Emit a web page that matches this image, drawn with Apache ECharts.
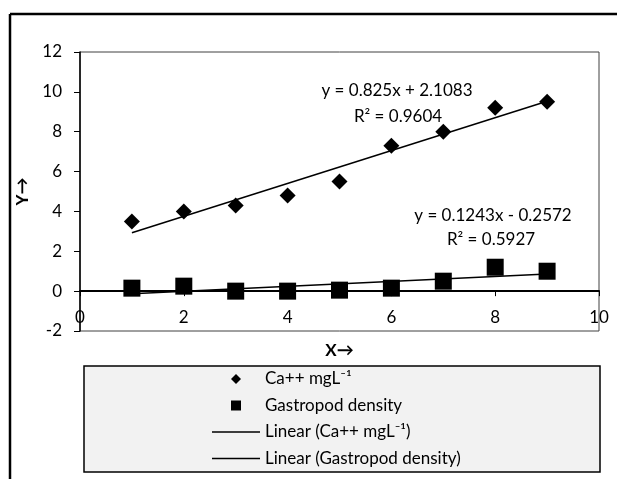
<!DOCTYPE html>
<html>
<head>
<meta charset="utf-8">
<script src="https://cdn.jsdelivr.net/npm/echarts@6/dist/echarts.min.js"></script>
<style>
  html, body { margin: 0; padding: 0; background: #fff; overflow: hidden; }
  #chart { width: 617px; height: 479px; }
</style>
</head>
<body>
<div id="chart"></div>
<script>
// data
const xValues = [1, 2, 3, 4, 5, 6, 7, 8, 9];
const caValues = [3.5, 4.0, 4.3, 4.8, 5.5, 7.3, 8.0, 9.2, 9.5];
const gastroValues = [0.15, 0.25, 0, 0, 0.05, 0.15, 0.5, 1.2, 1.0];
// trend line end points (x = 1 and x = 9)
const trendX = [1, 9];
const caTrend = [2.93, 9.53];
const gastroTrend = [-0.13, 0.86];
const caEquation = ['y = 0.825x + 2.1083', 'R² = 0.9604'];
const gastroEquation = ['y = 0.1243x - 0.2572', 'R² = 0.5927'];

const FONT = 'Lato';
const FS = 17;
const LINE_ICON = 'path://M0,0L48,0L48,1.5L0,1.5Z';

function pairs(xs, ys) {
  return xs.map((x, i) => [x, ys[i]]);
}

let chart = echarts.init(document.getElementById('chart'));
let option = {
  backgroundColor: '#fff',
  animation: false,
  textStyle: { fontFamily: FONT, fontSize: FS, color: '#000' },
  grid: {
    left: 80, right: 18, top: 52, bottom: 148,
    show: true, borderColor: '#404040', borderWidth: 1
  },
  xAxis: {
    type: 'value', min: 0, max: 10, interval: 2,
    name: 'X→', nameLocation: 'middle', nameGap: 11,
    nameTextStyle: { fontFamily: FONT, fontSize: FS, fontWeight: 'bold', color: '#000' },
    axisLine: { show: true, onZero: true, lineStyle: { color: '#000', width: 2 } },
    axisTick: { show: true, length: 5, lineStyle: { color: '#000' } },
    axisLabel: { inside: true, margin: 5, fontFamily: FONT, fontSize: FS, color: '#000' },
    splitLine: { show: false }
  },
  yAxis: {
    type: 'value', min: -2, max: 12, interval: 2,
    name: 'Y→', nameLocation: 'middle', nameGap: 42, nameRotate: 90,
    nameTextStyle: { fontFamily: FONT, fontSize: FS, fontWeight: 'bold', color: '#000' },
    axisLine: { show: true, onZero: false, lineStyle: { color: '#000', width: 1.5 } },
    axisTick: { show: true, length: 6, lineStyle: { color: '#000' } },
    axisLabel: { margin: 18, fontFamily: FONT, fontSize: FS, color: '#000' },
    splitLine: { show: false }
  },
  legend: {
    orient: 'vertical', left: 212, top: 369, padding: 0,
    itemWidth: 48, itemHeight: 10, itemGap: 6.5, symbolKeepAspect: true,
    textStyle: { fontFamily: FONT, fontSize: FS, color: '#000', lineHeight: 20 },
    data: [
      { name: 'Ca++ mgL⁻¹', icon: 'path://M5,0.5L9.5,5L5,9.5L0.5,5Z' },
      { name: 'Gastropod density', icon: 'path://M0,0L10,0L10,10L0,10Z' },
      { name: 'Linear (Ca++ mgL⁻¹)', icon: LINE_ICON },
      { name: 'Linear (Gastropod density)', icon: LINE_ICON }
    ]
  },
  graphic: [
    { type: 'line', z: -10, shape: { x1: 10, y1: 14, x2: 617, y2: 14 },
      style: { stroke: '#000', lineWidth: 2.5 } },
    { type: 'line', z: -10, shape: { x1: 10, y1: 14, x2: 10, y2: 479 },
      style: { stroke: '#000', lineWidth: 2.5 } },
    { type: 'rect', z: -5, shape: { x: 84, y: 366, width: 516, height: 106 },
      style: { fill: '#f2f2f2', stroke: '#000', lineWidth: 1.5 } },
    { type: 'text', x: 397, y: 91, style: { text: caEquation[0], font: FS + 'px ' + FONT, fill: '#000', align: 'center', verticalAlign: 'middle' } },
    { type: 'text', x: 398, y: 117, style: { text: caEquation[1], font: FS + 'px ' + FONT, fill: '#000', align: 'center', verticalAlign: 'middle' } },
    { type: 'text', x: 493, y: 216, style: { text: gastroEquation[0], font: FS + 'px ' + FONT, fill: '#000', align: 'center', verticalAlign: 'middle' } },
    { type: 'text', x: 491, y: 240, style: { text: gastroEquation[1], font: FS + 'px ' + FONT, fill: '#000', align: 'center', verticalAlign: 'middle' } }
  ],
  series: [
    {
      name: 'Ca++ mgL⁻¹', type: 'scatter', symbol: 'diamond', symbolSize: 16,
      itemStyle: { color: '#000', opacity: 1 }, data: pairs(xValues, caValues)
    },
    {
      name: 'Gastropod density', type: 'scatter', symbol: 'rect', symbolSize: 17,
      itemStyle: { color: '#000', opacity: 1 }, data: pairs(xValues, gastroValues)
    },
    {
      name: 'Linear (Ca++ mgL⁻¹)', type: 'line', symbol: 'none',
      lineStyle: { color: '#000', width: 1.5 }, itemStyle: { color: '#000' },
      data: pairs(trendX, caTrend)
    },
    {
      name: 'Linear (Gastropod density)', type: 'line', symbol: 'none',
      lineStyle: { color: '#000', width: 1.5 }, itemStyle: { color: '#000' },
      data: pairs(trendX, gastroTrend)
    }
  ]
};
chart.setOption(option);
</script>
</body>
</html>
